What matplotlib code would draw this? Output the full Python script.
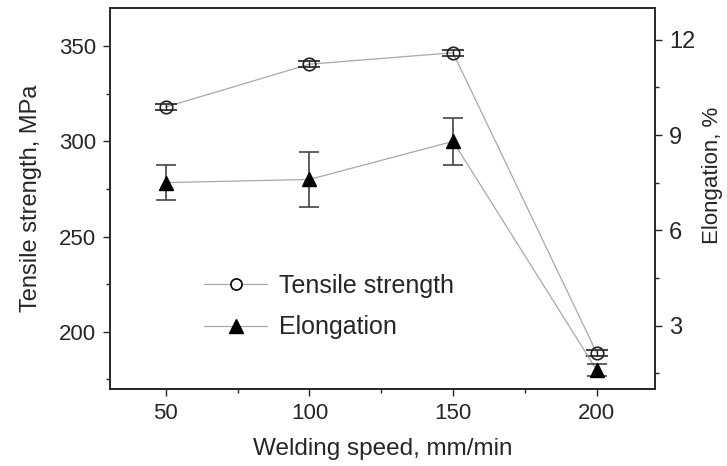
import matplotlib
matplotlib.use("Agg")
import matplotlib.pyplot as plt
from matplotlib.ticker import MultipleLocator

plt.rcParams['font.family'] = ['Liberation Sans', 'DejaVu Sans']

speed = [50, 100, 150, 200]
tensile = [318, 340.5, 346.5, 189]
tensile_err = [1.5, 1.5, 1.5, 1.5]
elong = [7.5, 7.6, 8.8, 1.6]
elong_err = [0.55, 0.87, 0.75, 0.2]

x_ticks = [50, 100, 150, 200]
ts_ticks = [200, 250, 300, 350]
el_ticks = [3, 6, 9, 12]

fig = plt.figure(figsize=(7.27, 4.66), dpi=100)
ax = fig.add_axes([110/727, 1-389/466, (655-110)/727, (389-8)/466])
ax2 = ax.twinx()

line_c = '#a8a8a8'
txt_c = '#262626'
ax.plot(speed, tensile, color=line_c, lw=0.9, zorder=1)
ax.errorbar(speed, tensile, yerr=tensile_err, fmt='o', mfc='none', mec='#222222',
            ms=9, mew=1.2, ecolor='#222222', elinewidth=1.0, capsize=8, capthick=1.0,
            zorder=3)
ax2.plot(speed, elong, color=line_c, lw=0.9, zorder=1)
ax2.errorbar(speed, elong, yerr=elong_err, fmt='^', mfc='black', mec='black',
             ms=10, ecolor='#444444', elinewidth=1.2, capsize=7, capthick=1.2,
             zorder=3)

ax.set_xlim(30.6, 220.3)
ax.set_ylim(170, 370)
ax2.set_ylim(1, 13)

ax.set_xticks(x_ticks)
ax.xaxis.set_minor_locator(MultipleLocator(25))
ax.set_yticks(ts_ticks)
ax.yaxis.set_minor_locator(MultipleLocator(25))
ax2.set_yticks(el_ticks)
ax2.yaxis.set_minor_locator(MultipleLocator(1.5))

for a in (ax, ax2):
    a.tick_params(which='major', direction='out', length=5, width=1, labelsize=16, colors=txt_c, pad=5)
    a.tick_params(which='minor', direction='out', length=3, width=1, colors=txt_c)
    for s in a.spines.values():
        s.set_linewidth(1.2)
        s.set_color(txt_c)
ax2.tick_params(which='major', labelsize=17)

ax.set_xlabel('Welding speed, mm/min', fontsize=17.5, color=txt_c, labelpad=10)
ax.set_ylabel('Tensile strength, MPa', fontsize=17, color=txt_c, labelpad=12)
ax2.set_ylabel('Elongation, %', fontsize=16, color=txt_c)
ax2.yaxis.set_label_coords(1.086, 0.562)

h1 = plt.Line2D([], [], color=line_c, lw=0.9, marker='o', mfc='white', mec='black', ms=8, mew=1.2)
h2 = plt.Line2D([], [], color=line_c, lw=0.9, marker='^', mfc='black', mec='black', ms=10)
leg = ax2.legend([h1, h2], ['Tensile strength', 'Elongation'], loc='upper left',
           bbox_to_anchor=(0.132, 0.361), frameon=False, fontsize=18,
           handlelength=2.5, labelspacing=0.7, handletextpad=0.5)
for t in leg.get_texts():
    t.set_color(txt_c)

fig.savefig('out.png', dpi=100)
